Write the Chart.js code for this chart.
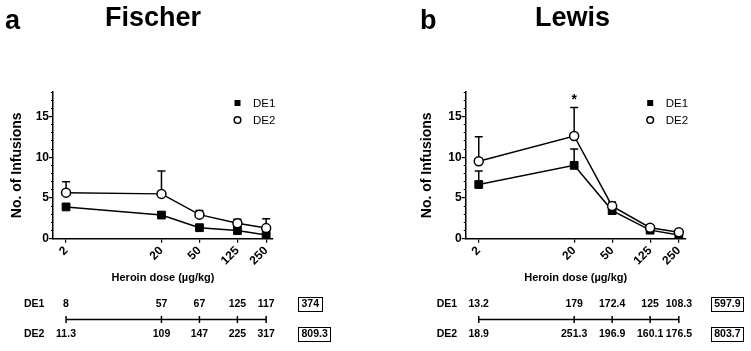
<!DOCTYPE html>
<html>
<head>
  <title>Heroin dose - Fischer vs Lewis</title>
  <meta charset="utf-8" />
  <script src="https://cdn.jsdelivr.net/npm/chart.js"></script>
  <style>
    body { margin: 0; background: #fff; }
    #page { position: relative; width: 751px; height: 351px; font-family: "Liberation Sans", Arial, sans-serif; }
    .panel { position: absolute; top: 0; width: 375px; height: 351px; }
    .lbl { position: absolute; font-weight: bold; font-size: 27px; line-height: 27px; color: #000; white-space: nowrap; }
  </style>
</head>
<body>
<div id="page">
  <div class="panel" style="left:0px"><canvas id="chartA" width="375" height="351"></canvas></div>
  <div class="panel" style="left:376px"><canvas id="chartB" width="375" height="351"></canvas></div>
  <div class="lbl" style="left:5px; top:7px">a</div>
  <div class="lbl" style="left:105px; top:4px">Fischer</div>
  <div class="lbl" style="left:420px; top:7px">b</div>
  <div class="lbl" style="left:535px; top:4px">Lewis</div>
</div>

<script>
  // dose levels (ug/kg) - x axis
  const doses = [2, 20, 50, 125, 250];

  // Fischer: mean infusions and upper SEM
  const fischerDE1 = [3.9, 2.9, 1.35, 1.0, 0.45];
  const fischerDE1Err = [0.2, 0.3, 0.2, 0.2, 0.15];
  const fischerDE2 = [5.65, 5.5, 2.95, 1.9, 1.3];
  const fischerDE2Err = [1.35, 2.8, 0.5, 0.5, 1.15];

  // Lewis
  const lewisDE1 = [6.65, 9.0, 3.45, 1.05, 0.45];
  const lewisDE1Err = [1.65, 2.0, 0.3, 0.2, 0.15];
  const lewisDE2 = [9.5, 12.6, 4.0, 1.35, 0.8];
  const lewisDE2Err = [3.0, 3.5, 0.5, 0.2, 0.15];
  const lewisDE2Sig = ['', '*', '', '', ''];

  // intake table under each plot
  const fischerTableDE1 = ['8', '57', '67', '125', '117'];
  const fischerTableDE2 = ['11.3', '109', '147', '225', '317'];
  const fischerTotals = ['374', '809.3'];
  const lewisTableDE1 = ['13.2', '179', '172.4', '125', '108.3'];
  const lewisTableDE2 = ['18.9', '251.3', '196.9', '160.1', '176.5'];
  const lewisTotals = ['597.9', '803.7'];

  const seriesNames = ['DE1', 'DE2'];
  const FONT = '"Liberation Sans", Arial, sans-serif';

  Chart.defaults.font.family = FONT;
  Chart.defaults.color = '#000';

  // error bars, legend, asterisk and the table drawn off the chart's own scales
  const extras = {
    id: 'extras',
    beforeDatasetsDraw(chart, args, opts) {
      const ctx = chart.ctx;
      const xs = chart.scales.x, ys = chart.scales.y;
      ctx.save();
      ctx.strokeStyle = '#000';
      ctx.lineWidth = 1.5;
      chart.data.datasets.forEach(ds => {
        ds.data.forEach((pt, j) => {
          const e = ds.err[j];
          if (!e) return;
          const x = xs.getPixelForValue(pt.x);
          const y0 = ys.getPixelForValue(pt.y);
          const y1 = ys.getPixelForValue(pt.y + e);
          ctx.beginPath();
          ctx.moveTo(x, y0);
          ctx.lineTo(x, y1);
          ctx.moveTo(x - 4, y1);
          ctx.lineTo(x + 4, y1);
          ctx.stroke();
        });
      });
      ctx.restore();
    },
    afterDraw(chart, args, opts) {
      const ctx = chart.ctx;
      const xs = chart.scales.x, ys = chart.scales.y;
      const area = chart.chartArea;
      ctx.save();

      // asterisks over error bars
      ctx.fillStyle = '#000';
      ctx.font = 'bold 14px ' + FONT;
      ctx.textAlign = 'center';
      ctx.textBaseline = 'alphabetic';
      chart.data.datasets.forEach(ds => {
        if (!ds.sig) return;
        ds.sig.forEach((s, j) => {
          if (!s) return;
          const pt = ds.data[j];
          ctx.fillText(s, xs.getPixelForValue(pt.x), ys.getPixelForValue(pt.y + ds.err[j]) - 3);
        });
      });

      // legend
      ctx.font = '11.5px ' + FONT;
      ctx.textAlign = 'left';
      ctx.textBaseline = 'middle';
      chart.data.datasets.forEach((ds, i) => {
        const mx = area.right - 35.5;
        const my = area.top + 11 + i * 17;
        ctx.lineWidth = 1.5;
        ctx.strokeStyle = ds.pointBorderColor;
        ctx.fillStyle = ds.pointBackgroundColor;
        if (ds.pointStyle === 'rect') {
          ctx.fillRect(mx - 3, my - 3, 6, 6);
        } else {
          ctx.beginPath();
          ctx.arc(mx, my, 3.3, 0, Math.PI * 2);
          ctx.fill();
          ctx.stroke();
        }
        ctx.fillStyle = '#000';
        ctx.fillText(ds.label, area.right - 20, my + 0.5);
      });

      // table
      const rows = [opts.row1, opts.row2];
      const rowY = [304, 334.5];
      const lineY = 319.5;
      ctx.font = 'bold 10.5px ' + FONT;
      ctx.fillStyle = '#000';
      rows.forEach((row, r) => {
        ctx.textAlign = 'left';
        ctx.fillText(seriesNames[r], area.left - 29, rowY[r]);
        ctx.textAlign = 'center';
        row.forEach((v, j) => {
          ctx.fillText(v, xs.getPixelForValue(doses[j]), rowY[r]);
        });
        // boxed total
        const bx = area.right + 25;
        const w = ctx.measureText(opts.totals[r]).width;
        ctx.textAlign = 'left';
        ctx.fillText(opts.totals[r], bx + 3.5, rowY[r]);
        ctx.lineWidth = 1;
        ctx.strokeStyle = '#000';
        ctx.strokeRect(Math.round(bx) + 0.5, Math.round(rowY[r] - 7.5) + 0.5, Math.round(w + 6), 14);
      });
      ctx.lineWidth = 1.5;
      ctx.strokeStyle = '#000';
      ctx.beginPath();
      ctx.moveTo(xs.getPixelForValue(doses[0]), lineY);
      ctx.lineTo(xs.getPixelForValue(doses[doses.length - 1]), lineY);
      doses.forEach(d => {
        const x = xs.getPixelForValue(d);
        ctx.moveTo(x, lineY - 3.5);
        ctx.lineTo(x, lineY + 3.5);
      });
      ctx.stroke();

      ctx.restore();
    }
  };

  function makeSeries(label, values, errs, style, order, sig) {
    return {
      label: label,
      data: values.map((v, i) => ({ x: doses[i], y: v })),
      err: errs,
      sig: sig,
      order: order,
      borderColor: '#000',
      borderWidth: 1.5,
      pointStyle: style,
      pointRadius: style === 'rect' ? 5.5 : 4.5,
      pointBorderWidth: style === 'rect' ? 1 : 1.5,
      pointBackgroundColor: style === 'rect' ? '#000' : '#fff',
      pointBorderColor: '#000',
      tension: 0,
      fill: false
    };
  }

  function makePanel(id, de1, de1Err, de2, de2Err, sig, table, pad) {
    new Chart(document.getElementById(id), {
      type: 'line',
      data: {
        datasets: [
          makeSeries('DE1', de1, de1Err, 'rect', 1, null),
          makeSeries('DE2', de2, de2Err, 'circle', 0, sig)
        ]
      },
      options: {
        responsive: false,
        animation: false,
        events: [],
        layout: { padding: { left: pad.left, right: pad.right, top: 92, bottom: 63 } },
        plugins: {
          legend: { display: false },
          tooltip: { enabled: false },
          extras: table
        },
        scales: {
          y: {
            type: 'linear',
            position: 'left',
            weight: 1,
            min: 0,
            max: 18,
            ticks: { stepSize: 5, includeBounds: false, padding: 0, font: { size: 12, weight: 'bold' }, color: '#000' },
            grid: { drawOnChartArea: false, tickLength: 4, color: '#000', lineWidth: 1.2 },
            border: { color: '#000', width: 1.5 },
            title: { display: true, text: 'No. of Infusions', font: { size: 14, weight: 'bold' }, color: '#000', padding: { top: 9.1, bottom: 0 } },
            afterFit: s => { s.width = pad.axisW; }
          },
          yMinor: {
            type: 'linear',
            position: 'left',
            weight: 0,
            min: 0,
            max: 18,
            ticks: { display: false, stepSize: 1 },
            grid: { drawOnChartArea: false, tickLength: 2, color: '#000', lineWidth: 1 },
            border: { display: false },
            afterFit: s => { s.width = 0; }
          },
          x: {
            type: 'logarithmic',
            position: 'bottom',
            min: 1.46,
            max: 295,
            afterBuildTicks: s => { s.ticks = doses.map(v => ({ value: v })); },
            ticks: {
              autoSkip: false,
              minRotation: 45,
              maxRotation: 45,
              padding: 1,
              font: { size: 12, weight: 'bold' },
              color: '#000',
              callback: v => String(v)
            },
            grid: { drawOnChartArea: false, tickLength: 4, color: '#000', lineWidth: 1.2 },
            border: { color: '#000', width: 1.5 },
            title: { display: true, text: 'Heroin dose (\u00b5g/kg)', font: { size: 11, weight: 'bold' }, color: '#000', padding: { top: 0, bottom: 3 } },
            afterFit: s => { s.height = 49.3; }
          }
        }
      },
      plugins: [extras]
    });
  }

  makePanel('chartA', fischerDE1, fischerDE1Err, fischerDE2, fischerDE2Err, null,
    { row1: fischerTableDE1, row2: fischerTableDE2, totals: fischerTotals },
    { left: 0, right: 102, axisW: 53 });

  makePanel('chartB', lewisDE1, lewisDE1Err, lewisDE2, lewisDE2Err, lewisDE2Sig,
    { row1: lewisTableDE1, row2: lewisTableDE2, totals: lewisTotals },
    { left: 34, right: 65.3, axisW: 55.7 });
</script>
</body>
</html>
